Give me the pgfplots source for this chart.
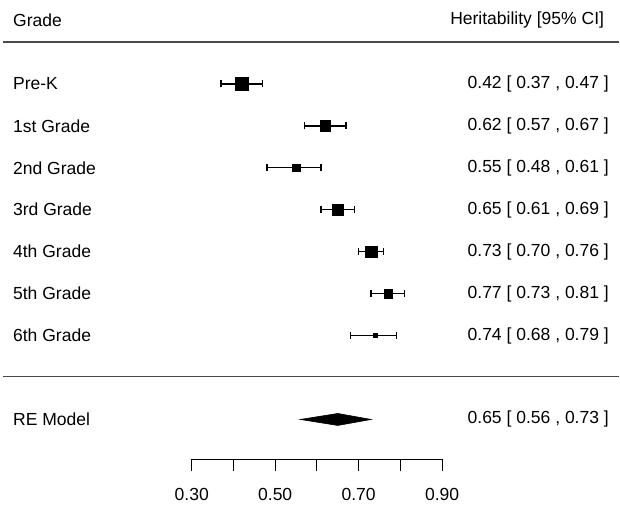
\documentclass[border=0pt]{standalone}
\usepackage{pgfplots}
\pgfplotsset{compat=1.18}
\usepackage{pgfplotstable}
\usepackage{fontspec}
\setmainfont{Liberation Sans}

% Study-level estimates: row position, estimate, CI bounds, square side (bp)
\pgfplotstableread{
row est lo hi side
84  0.42 0.37 0.47 12.5
126 0.62 0.57 0.67 10.3
168 0.55 0.48 0.61 7.7
210 0.65 0.61 0.69 11.3
252 0.73 0.70 0.76 11.7
294 0.77 0.73 0.81 8.3
336 0.74 0.68 0.79 4.0
}\grades

\definecolor{rule}{HTML}{4A4A4A}

\begin{document}
\fontsize{17.6}{20}\selectfont
\begin{tikzpicture}[every node/.style={inner sep=0pt}]
\begin{axis}[
  hide axis,
  scale only axis,
  width=620bp, height=507bp,
  xmin=-0.1595, xmax=1.3244,
  ymin=0, ymax=507, y dir=reverse,
  clip=false,
]
\path (rel axis cs:0,0) rectangle (rel axis cs:1,1);

% confidence intervals
\addplot[draw=none,
  error bars/.cd, x dir=both, x explicit,
  error bar style={line width=1.4bp, black},
  error mark options={line width=1.4bp, mark size=3.5bp, black, rotate=90}]
  table[x=est, y=row,
        x error plus expr=\thisrow{hi}-\thisrow{est},
        x error minus expr=\thisrow{est}-\thisrow{lo}] {\grades};

% weighted point estimates
\addplot[scatter, only marks, mark=square*,
  scatter/use mapped color={draw=black, fill=black},
  visualization depends on={\thisrow{side}/2 \as \halfside},
  scatter/@pre marker code/.append style={/tikz/mark size=\halfside bp}]
  table[x=est, y=row] {\grades};

% pooled random-effects estimate
\addplot[fill=black, draw=black, line width=0.6bp]
  coordinates {(0.56,420) (0.65,414) (0.73,420) (0.65,426)} -- cycle;

% rules
\draw[rule, line width=1.6bp] (axis cs:-0.152,42) -- (axis cs:1.3244,42);
\draw[rule, line width=1.6bp] (axis cs:-0.152,377) -- (axis cs:1.3244,377);

% x scale
\draw[black, line width=1.1bp] (axis cs:0.3,460) -- (axis cs:0.9,460);
\draw[black, line width=1.1bp] (axis cs:0.3,460) -- (axis cs:0.3,472);
\draw[black, line width=1.1bp] (axis cs:0.4,460) -- (axis cs:0.4,472);
\draw[black, line width=1.1bp] (axis cs:0.5,460) -- (axis cs:0.5,472);
\draw[black, line width=1.1bp] (axis cs:0.6,460) -- (axis cs:0.6,472);
\draw[black, line width=1.1bp] (axis cs:0.7,460) -- (axis cs:0.7,472);
\draw[black, line width=1.1bp] (axis cs:0.8,460) -- (axis cs:0.8,472);
\draw[black, line width=1.1bp] (axis cs:0.9,460) -- (axis cs:0.9,472);
\node at (axis cs:0.3,495) {0.30};
\node at (axis cs:0.5,495) {0.50};
\node at (axis cs:0.7,495) {0.70};
\node at (axis cs:0.9,495) {0.90};

% headers
\node[anchor=west] at (axis cs:-0.1285,20) {Grade};
\node[anchor=east] at (axis cs:1.2885,20) {Heritability [95\% CI]};

% row labels
\node[anchor=west] at (axis cs:-0.1285,84)  {Pre-K};
\node[anchor=west] at (axis cs:-0.1285,126) {1st Grade};
\node[anchor=west] at (axis cs:-0.1285,168) {2nd Grade};
\node[anchor=west] at (axis cs:-0.1285,210) {3rd Grade};
\node[anchor=west] at (axis cs:-0.1285,252) {4th Grade};
\node[anchor=west] at (axis cs:-0.1285,294) {5th Grade};
\node[anchor=west] at (axis cs:-0.1285,336) {6th Grade};
\node[anchor=west] at (axis cs:-0.1285,420) {RE Model};

% estimates with intervals
\node[anchor=east] at (axis cs:1.3,84)  {0.42 [ 0.37 , 0.47 ]};
\node[anchor=east] at (axis cs:1.3,126) {0.62 [ 0.57 , 0.67 ]};
\node[anchor=east] at (axis cs:1.3,168) {0.55 [ 0.48 , 0.61 ]};
\node[anchor=east] at (axis cs:1.3,210) {0.65 [ 0.61 , 0.69 ]};
\node[anchor=east] at (axis cs:1.3,252) {0.73 [ 0.70 , 0.76 ]};
\node[anchor=east] at (axis cs:1.3,294) {0.77 [ 0.73 , 0.81 ]};
\node[anchor=east] at (axis cs:1.3,336) {0.74 [ 0.68 , 0.79 ]};
\node[anchor=east] at (axis cs:1.3,420) {0.65 [ 0.56 , 0.73 ]};
\end{axis}
\end{tikzpicture}
\end{document}
